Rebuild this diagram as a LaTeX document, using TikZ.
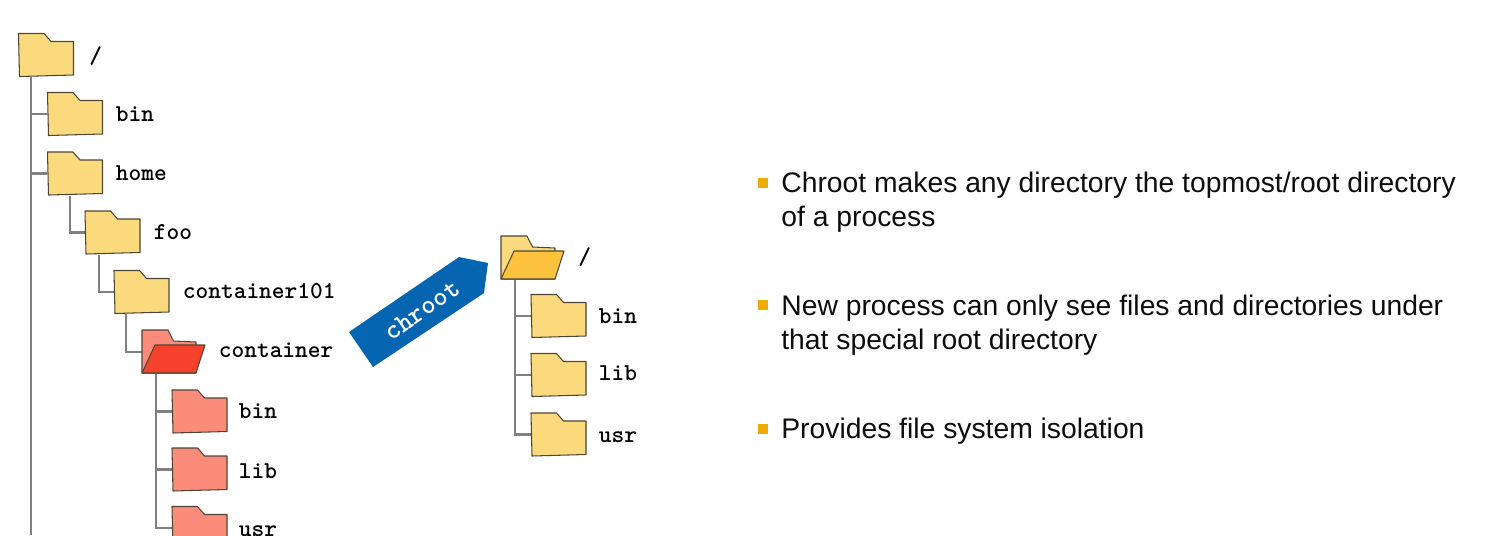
\documentclass[tikz,border=0pt]{standalone}
\usepackage{fontspec}
\setmainfont{Liberation Sans}
\usepackage{tikz}
\usetikzlibrary{positioning}

\definecolor{folderYellow}{HTML}{FBDA7E}
\definecolor{folderOrange}{HTML}{FDC23E}
\definecolor{folderPink}{HTML}{FB8C7A}
\definecolor{folderRed}{HTML}{F6412D}
\definecolor{folderEdge}{HTML}{4F4534}
\definecolor{chrootBlue}{HTML}{0565B1}
\definecolor{bulletOrange}{HTML}{F0AB00}

\tikzset{
  closedbox/.style={minimum width=1.1cm, minimum height=0.87cm, inner sep=0pt},
  openbox/.style={minimum width=1.26cm, minimum height=0.87cm, inner sep=0pt},
  branch/.style={draw=gray, line width=1.6pt},
  dirname/.style={anchor=base west, inner sep=0pt, font=\fontsize{13.8}{16}\ttfamily\bfseries},
  bodyline/.style={anchor=base west, inner sep=0pt, font=\fontsize{16.1}{19}\selectfont, text=black!95},
  bulletmark/.style={fill=bulletOrange, minimum size=0.2cm, inner sep=0pt},
  closedfolder/.pic={
    \path[draw=folderEdge, line width=0.6pt, line join=round, pic actions]
      (-27.5,-21.5) -- (-2,-21.5) -- (5,-13.5) -- (27.5,-13.5) -- (27.5,20) -- (-26.5,21.5) -- cycle;
  },
  openfolder/.pic={
    \path[draw=folderEdge, line width=0.6pt, line join=round, pic actions]
      (-31.5,-22) -- (-5.5,-22) -- (0,-11) -- (22.5,-10) -- (22.5,21) -- (-31.5,21) -- cycle;
    \path[draw=folderEdge, line width=0.6pt, line join=round, fill=#1]
      (-18.5,-7) -- (31.5,-7) -- (22.5,21) -- (-31.5,21) -- cycle;
  }
}

\begin{document}
\begin{tikzpicture}[x=0.02cm, y=-0.02cm]
    \useasboundingbox (0,0) rectangle (1500,535);
    \clip (0,0) rectangle (1500,535);

    % Define folders
    \node[closedbox] (root) at (46,55) {};
    \node[closedbox] (bin) at (75,114) {};
    \node[closedbox] (home) at (75,173.5) {};
    \node[closedbox] (foo) at (112.5,232.5) {};
    \node[closedbox] (container101) at (141.5,292) {};
    \node[openbox] (container) at (173.5,352) {};
    \node[closedbox] (cbin) at (199.5,411.5) {};
    \node[closedbox] (clib) at (199.5,469.5) {};
    \node[closedbox] (cusr) at (199.5,528) {};
    \node[openbox] (newroot) at (532.5,258) {};
    \node[closedbox] (nbin) at (558.5,316) {};
    \node[closedbox] (nlib) at (558.5,375) {};
    \node[closedbox] (nusr) at (558.5,434.5) {};
    \coordinate (rootend) at (31,535);

    % Draw lines between folders
    \draw[branch] (rootend |- root.south) -- (rootend);
    \draw[branch] (rootend |- bin.west) -- (bin.west);
    \draw[branch] (rootend |- home.west) -- (home.west);
    \draw[branch] ([xshift=-0.1cm]home.south) |- (foo.west);
    \draw[branch] ([xshift=-0.27cm]foo.south) |- (container101.west);
    \draw[branch] ([xshift=-0.31cm]container101.south) |- (container.west);
    \draw[branch] ([xshift=-0.35cm]container.south) |- (cusr.west);
    \draw[branch] ([xshift=-0.35cm]container.south |- cbin.west) -- (cbin.west);
    \draw[branch] ([xshift=-0.35cm]container.south |- clib.west) -- (clib.west);
    \draw[branch] ([xshift=-0.35cm]newroot.south) |- (nusr.west);
    \draw[branch] ([xshift=-0.35cm]newroot.south |- nbin.west) -- (nbin.west);
    \draw[branch] ([xshift=-0.35cm]newroot.south |- nlib.west) -- (nlib.west);

    % Draw folder shapes
    \pic[fill=folderYellow] at (root) {closedfolder};
    \pic[fill=folderYellow] at (bin) {closedfolder};
    \pic[fill=folderYellow] at (home) {closedfolder};
    \pic[fill=folderYellow] at (foo) {closedfolder};
    \pic[fill=folderYellow] at (container101) {closedfolder};
    \pic[fill=folderPink] at (container) {openfolder=folderRed};
    \pic[fill=folderPink] at (cbin) {closedfolder};
    \pic[fill=folderPink] at (clib) {closedfolder};
    \pic[fill=folderPink] at (cusr) {closedfolder};
    \pic[fill=folderYellow] at (newroot) {openfolder=folderOrange};
    \pic[fill=folderYellow] at (nbin) {closedfolder};
    \pic[fill=folderYellow] at (nlib) {closedfolder};
    \pic[fill=folderYellow] at (nusr) {closedfolder};

    % Add folder names
    \node[dirname] (lroot) at (89,63) {/};
    \node[dirname] (lbin) at (115.5,121) {bin};
    \node[dirname] (lhome) at (115.5,180) {home};
    \node[dirname] (lfoo) at (153.5,239) {foo};
    \node[dirname] (lcontainer101) at (182.5,298) {container101};
    \node[dirname] (lcontainer) at (218.5,357) {container};
    \node[dirname] (lcbin) at (238.5,418) {bin};
    \node[dirname] (lclib) at (238.5,478) {lib};
    \node[dirname] (lcusr) at (238.5,536) {usr};
    \node[dirname] (lnewroot) at (578,264) {/};
    \node[dirname] (lnbin) at (598.5,323) {bin};
    \node[dirname] (lnlib) at (598.5,380) {lib};
    \node[dirname] (lnusr) at (598.5,442) {usr};

    % Draw chroot arrow
    \fill[chrootBlue] (349,332) -- (459,257) -- (488,263) -- (484,293) -- (373,367) -- cycle;
    \node[rotate=35, text=white, font=\fontsize{15.6}{18}\ttfamily\bfseries] (chrootlabel) at (422,310) {chroot};

    % Add bullet points
    \node[bulletmark] (b1) at (763,183) {};
    \node[bodyline] (t1) at (781,192) {Chroot makes any directory the topmost/root directory};
    \node[bodyline] (t1b) at (781,226) {of a process};
    \node[bulletmark] (b2) at (763,305) {};
    \node[bodyline] (t2) at (781,315) {New process can only see files and directories under};
    \node[bodyline] (t2b) at (781,349) {that special root directory};
    \node[bulletmark] (b3) at (763,429) {};
    \node[bodyline] (t3) at (781,438) {Provides file system isolation};
\end{tikzpicture}
\end{document}
